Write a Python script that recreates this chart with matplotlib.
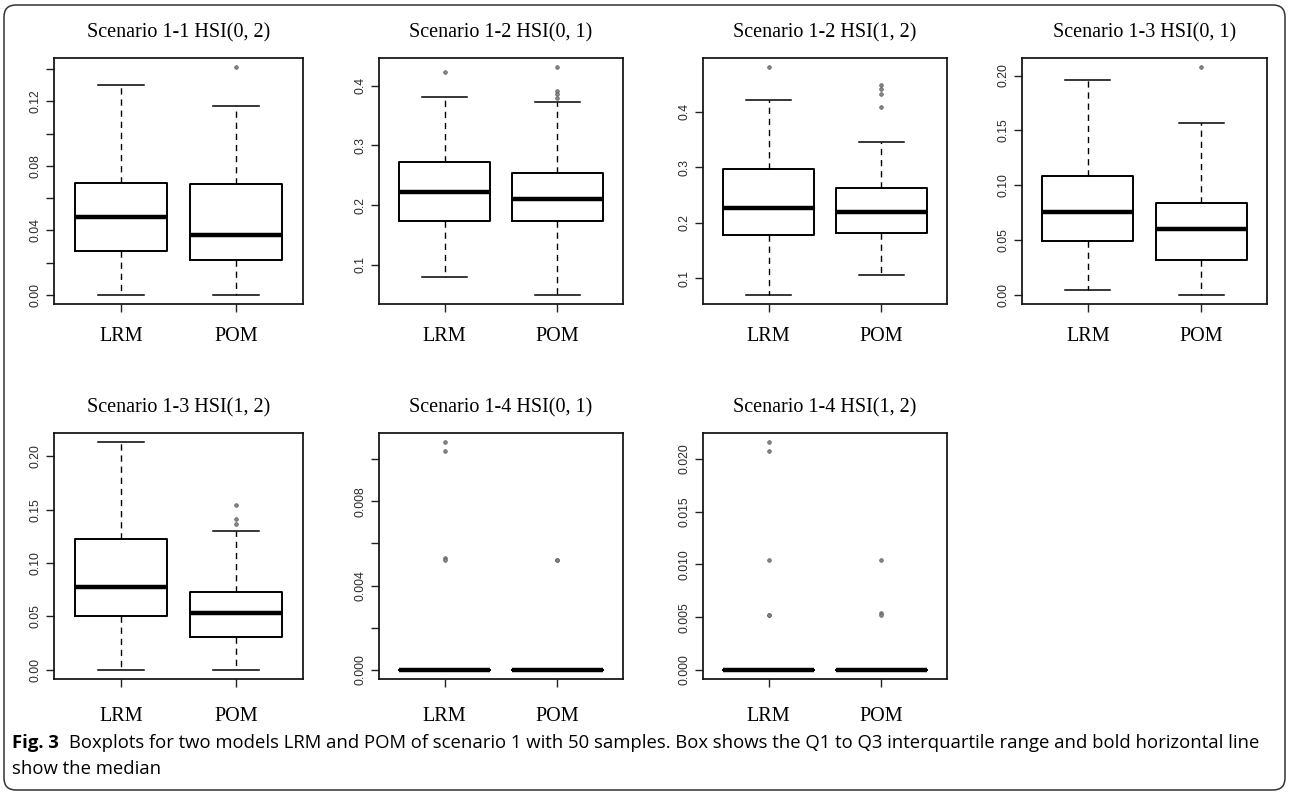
import matplotlib
matplotlib.use("Agg")
import matplotlib.pyplot as plt
from matplotlib.patches import FancyBboxPatch
from matplotlib.transforms import IdentityTransform

# ---------------- data ----------------
titles = ["Scenario 1-1 HSI(0, 2)", "Scenario 1-2 HSI(0, 1)", "Scenario 1-2 HSI(1, 2)",
          "Scenario 1-3 HSI(0, 1)", "Scenario 1-3 HSI(1, 2)", "Scenario 1-4 HSI(0, 1)",
          "Scenario 1-4 HSI(1, 2)"]
models = ["LRM", "POM"]

lrm_whislo = [0.0, 0.079, 0.0704, 0.0046, 0.0, 0.0, 0.0]
lrm_q1 = [0.0271, 0.173, 0.1775, 0.049, 0.0506, 0.0, 0.0]
lrm_med = [0.0484, 0.2216, 0.2265, 0.0752, 0.0772, 0.0, 0.0]
lrm_q3 = [0.0693, 0.2716, 0.2972, 0.1086, 0.1221, 0.0, 0.0]
lrm_whishi = [0.130, 0.3813, 0.4212, 0.196, 0.2132, 0.0, 0.0]
lrm_fliers = [[], [0.4236], [0.480], [], [],
              [0.0108, 0.0104, 0.0053, 0.0052],
              [0.0216, 0.0208, 0.0104, 0.0052, 0.0052]]

pom_whislo = [0.0, 0.0498, 0.1054, 0.0, 0.0, 0.0, 0.0]
pom_q1 = [0.0217, 0.173, 0.1824, 0.0319, 0.0311, 0.0, 0.0]
pom_med = [0.0369, 0.2098, 0.2187, 0.0598, 0.053, 0.0, 0.0]
pom_q3 = [0.0687, 0.253, 0.2633, 0.0837, 0.0728, 0.0, 0.0]
pom_whishi = [0.1169, 0.3729, 0.3462, 0.157, 0.1303, 0.0, 0.0]
pom_fliers = [[0.1413], [0.431, 0.391, 0.386, 0.379], [0.447, 0.440, 0.432, 0.408],
              [0.2077], [0.1545, 0.141, 0.137], [0.0052, 0.0052], [0.0104, 0.0054, 0.0052]]

yticks = [[0.0, 0.02, 0.04, 0.06, 0.08, 0.10, 0.12, 0.14],
          [0.1, 0.2, 0.3, 0.4],
          [0.1, 0.2, 0.3, 0.4],
          [0.0, 0.05, 0.10, 0.15, 0.20],
          [0.0, 0.05, 0.10, 0.15, 0.20],
          [0.0, 0.002, 0.004, 0.006, 0.008, 0.010],
          [0.0, 0.005, 0.010, 0.015, 0.020]]
ytick_labels = [["0.00", "", "0.04", "", "0.08", "", "0.12", ""],
                ["0.1", "0.2", "0.3", "0.4"],
                ["0.1", "0.2", "0.3", "0.4"],
                ["0.00", "0.05", "0.10", "0.15", "0.20"],
                ["0.00", "0.05", "0.10", "0.15", "0.20"],
                ["0.000", "", "0.004", "", "0.008", ""],
                ["0.000", "0.005", "0.010", "0.015", "0.020"]]

caption_bold = "Fig. 3"
caption_line1 = ("Boxplots for two models LRM and POM of scenario 1 with 50 samples. "
                 "Box shows the Q1 to Q3 interquartile range and bold horizontal line")
caption_line2 = "show the median"

# ---------------- layout ----------------
W, H = 1290, 792
fig = plt.figure(figsize=(W / 100, H / 100), dpi=100)
fig.patch.set_facecolor("white")

cols = [(54, 303), (379, 623), (703, 947), (1022, 1267)]
rows = [(58, 304), (433, 679)]
xlabel_pad = [11, 15]
positions = [(0, 0), (0, 1), (0, 2), (0, 3), (1, 0), (1, 1), (1, 2)]

serif = "Liberation Serif"
sans = "Liberation Sans"

for i, (r, c) in enumerate(positions):
    x0, x1 = cols[c]
    y0, y1 = rows[r]
    ax = fig.add_axes([x0 / W, (H - y1) / H, (x1 - x0) / W, (y1 - y0) / H])
    stats = [
        dict(label=models[0], whislo=lrm_whislo[i], q1=lrm_q1[i], med=lrm_med[i],
             q3=lrm_q3[i], whishi=lrm_whishi[i], fliers=lrm_fliers[i]),
        dict(label=models[1], whislo=pom_whislo[i], q1=pom_q1[i], med=pom_med[i],
             q3=pom_q3[i], whishi=pom_whishi[i], fliers=pom_fliers[i]),
    ]
    ax.bxp(stats, positions=[1, 2], widths=0.8, capwidths=0.4, showfliers=True,
           boxprops=dict(color="black", linewidth=1.4),
           medianprops=dict(color="black", linewidth=3.2, solid_capstyle="butt"),
           whiskerprops=dict(color="black", linewidth=1.0, linestyle=(0, (4.5, 3.5))),
           capprops=dict(color="black", linewidth=1.1),
           flierprops=dict(marker="o", markersize=2.6, markerfacecolor="#8a8a8a",
                           markeredgecolor="#555555", markeredgewidth=0.5, linestyle="none"))
    # R-style axis extension (4% of data range)
    allv = [lrm_whislo[i], lrm_whishi[i], pom_whislo[i], pom_whishi[i]] + lrm_fliers[i] + pom_fliers[i]
    lo, hi = min(allv), max(allv)
    ext = 0.04 * (hi - lo)
    ax.set_ylim(lo - ext, hi + ext)
    ax.set_xlim(0.42, 2.58)
    ax.set_yticks(yticks[i])
    ax.set_yticklabels(ytick_labels[i], rotation=90, va="center",
                       fontfamily=sans, fontsize=8.7, color="#2a2a2a")
    ax.set_xticks([1, 2])
    ax.set_xticklabels(models, fontfamily=serif, fontsize=14.5)
    ax.tick_params(axis="both", direction="out", length=5.5, width=1.0, color="#222222")
    ax.tick_params(axis="y", pad=3.5)
    ax.tick_params(axis="x", pad=xlabel_pad[r])
    for sp in ax.spines.values():
        sp.set_linewidth(1.25)
        sp.set_color("#111111")
    ax.text(0.5, 1 + 25 / 246, titles[i], transform=ax.transAxes, ha="center", va="center",
            fontfamily=serif, fontsize=14.5)

# ---------------- caption ----------------
cap_size = 13.3
cap_font = "Open Sans"
cap_x = 12
t_bold = fig.text(cap_x / W, 1 - 743 / H, caption_bold, fontfamily=cap_font, fontweight="bold",
                  fontsize=cap_size, va="center", ha="left")
renderer = fig.canvas.get_renderer()
bb = t_bold.get_window_extent(renderer=renderer)
fig.text((bb.x1 + 10) / W, 1 - 743 / H, caption_line1, fontfamily=cap_font,
         fontsize=cap_size, va="center", ha="left")
fig.text(cap_x / W, 1 - 769 / H, caption_line2, fontfamily=cap_font,
         fontsize=cap_size, va="center", ha="left")

# ---------------- rounded border ----------------
border = FancyBboxPatch((4, 2), W - 9, H - 7, boxstyle="round,pad=0,rounding_size=12",
                        transform=IdentityTransform(), fill=False, edgecolor="#333333",
                        linewidth=1.1)
fig.add_artist(border)

fig.savefig("out.png", dpi=100, facecolor="white")
